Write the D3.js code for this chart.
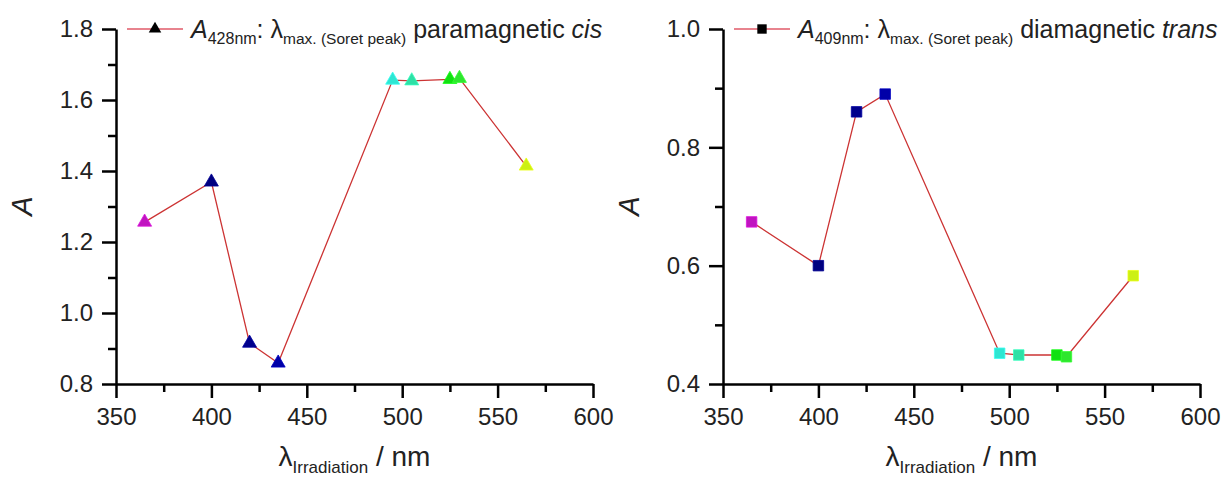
<!DOCTYPE html>
<html>
<head>
<meta charset="utf-8">
<title>Soret peak vs irradiation wavelength</title>
<script src="https://d3js.org/d3.v7.min.js"></script>
<style>
  body { margin: 0; background: #fff; }
  svg { display: block; font-family: Arial, "Liberation Sans", sans-serif; }
  .axis path, .axis line { stroke: #000; stroke-width: 2.5px; }
  .axis text { font-size: 24px; fill: #222; font-family: Arial, "Liberation Sans", sans-serif; }
</style>
</head>
<body>
<svg width="1224" height="477"></svg>
<script>
// irradiation wavelengths (nm), shared by both panels
var wavelengths = [365, 400, 420, 435, 495, 505, 525, 530, 565];
// marker colours follow the irradiation colour
var pointColors = ['#c014c0', '#000080', '#00008c', '#0000a8', '#2ee6d2', '#2ee0a6', '#12e012', '#2ee62e', '#ccf014'];

// paramagnetic cis, A at 428 nm
var cisValues = [1.256, 1.369, 0.915, 0.859, 1.656, 1.654, 1.658, 1.661, 1.414];
// diamagnetic trans, A at 409 nm
var transValues = [0.674, 0.600, 0.860, 0.890, 0.452, 0.449, 0.449, 0.446, 0.583];

var xTicks = [350, 400, 450, 500, 550, 600];
var xMinor = [375, 425, 475, 525, 575];
var cisTicks = [0.8, 1.0, 1.2, 1.4, 1.6, 1.8];
var cisMinor = [0.9, 1.1, 1.3, 1.5, 1.7];
var transTicks = [0.4, 0.6, 0.8, 1.0];
var transMinor = [0.5, 0.7, 0.9];

var svg = d3.select('svg');

function drawPanel(p) {
	var x = d3.scaleLinear().domain([350, 600]).range([p.left, p.left + 477]);
	var y = d3.scaleLinear().domain(p.yDomain).range([384, 29]);
	var g = svg.append('g');

	// minor ticks first, majors with the axis line on top
	g.append('g').attr('class', 'axis').attr('transform', 'translate(0,384)')
		.call(d3.axisBottom(x).tickValues(xMinor).tickSize(8).tickFormat(''))
		.select('.domain').remove();
	g.append('g').attr('class', 'axis').attr('transform', 'translate(' + p.left + ',0)')
		.call(d3.axisLeft(y).tickValues(p.yMinor).tickSize(8).tickFormat(''))
		.select('.domain').remove();

	g.append('g').attr('class', 'axis').attr('transform', 'translate(0,384)')
		.call(d3.axisBottom(x).tickValues(xTicks).tickSize(14).tickSizeOuter(0).tickPadding(10));
	g.append('g').attr('class', 'axis').attr('transform', 'translate(' + p.left + ',0)')
		.call(d3.axisLeft(y).tickValues(p.yTicks).tickSize(14).tickSizeOuter(0).tickPadding(9)
			.tickFormat(d3.format('.1f')));

	// connecting line
	var line = d3.line().x(function(d, i) { return x(wavelengths[i]); }).y(function(d) { return y(d); });
	g.append('path').datum(p.values)
		.attr('d', line).attr('fill', 'none')
		.attr('stroke', '#cc3333').attr('stroke-width', 1.3);

	var sym = d3.symbol().type(p.symbol).size(p.symbolSize);
	g.selectAll('.pt').data(p.values).enter().append('path')
		.attr('class', 'pt')
		.attr('d', sym)
		.attr('transform', function(d, i) { return 'translate(' + x(wavelengths[i]) + ',' + y(d) + ')'; })
		.attr('fill', function(d, i) { return pointColors[i]; })
		.attr('stroke', function(d, i) { return d3.color(pointColors[i]).brighter(0.4); })
		.attr('stroke-width', 0.8);

	// y title
	g.append('text')
		.attr('transform', 'translate(' + (p.left - 84) + ',206) rotate(-90)')
		.attr('text-anchor', 'middle')
		.attr('font-size', 29).attr('font-style', 'italic').attr('fill', '#222')
		.text('A');

	// x title
	var xt = g.append('text')
		.attr('x', (x(350) + x(600)) / 2).attr('y', 466)
		.attr('text-anchor', 'middle')
		.attr('font-size', 28).attr('fill', '#222');
	xt.append('tspan').text('λ');
	xt.append('tspan').attr('font-size', 17).attr('dy', 7).text('Irradiation');
	xt.append('tspan').attr('dy', -7).text(' / nm');

	// legend
	var lx = p.left + 11;
	g.append('line').attr('x1', lx).attr('x2', lx + 56).attr('y1', 29).attr('y2', 29)
		.attr('stroke', '#e05a68').attr('stroke-width', 1.6);
	g.append('path').attr('d', d3.symbol().type(p.symbol).size(p.symbolSize * 0.8)())
		.attr('transform', 'translate(' + (lx + 28) + ',29)').attr('fill', '#000');
	var lt = g.append('text').attr('x', lx + 64).attr('y', 38)
		.attr('font-size', 25).attr('fill', '#222');
	lt.append('tspan').attr('font-style', 'italic').text('A');
	lt.append('tspan').attr('font-size', 16).attr('dy', 6).text(p.band);
	lt.append('tspan').attr('dy', -6).text(': λ');
	lt.append('tspan').attr('font-size', 15.5).attr('dy', 6).text('max. (Soret peak)');
	lt.append('tspan').attr('dy', -6).text(' ' + p.label + ' ');
	lt.append('tspan').attr('font-style', 'italic').text(p.isomer);
}

drawPanel({
	left: 116, yDomain: [0.8, 1.8], yTicks: cisTicks, yMinor: cisMinor,
	values: cisValues, symbol: d3.symbolTriangle, symbolSize: 85,
	band: '428nm', label: 'paramagnetic', isomer: 'cis'
});
drawPanel({
	left: 723, yDomain: [0.4, 1.0], yTicks: transTicks, yMinor: transMinor,
	values: transValues, symbol: d3.symbolSquare, symbolSize: 110,
	band: '409nm', label: 'diamagnetic', isomer: 'trans'
});
</script>
</body>
</html>
